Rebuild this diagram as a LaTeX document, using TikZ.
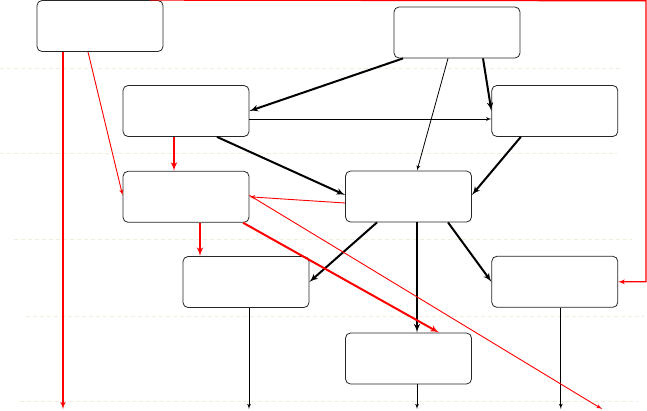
\documentclass[tikz,border=0pt]{standalone}
\usepackage{xcolor}
\usepackage{tikz}
\usetikzlibrary{shapes,arrows,positioning,calc}

\definecolor{guide}{RGB}{238,238,222}
\definecolor{flow}{RGB}{255,0,0}

\begin{document}
\begin{tikzpicture}[x=1pt, y=-1pt, node distance=34pt]
    \tikzstyle{box} = [rectangle, draw=black!85, line width=0.8pt, fill=white, minimum width=126pt, minimum height=51pt, rounded corners=5pt, inner sep=0pt]
    \tikzstyle{guideline} = [draw=guide, line width=0.8pt, dash pattern=on 4pt off 3pt]
    \tikzstyle{line} = [draw, -latex', line width=0.8pt]
    \tikzstyle{heavy} = [draw, -latex', line width=2pt]
    \tikzstyle{redline} = [draw=flow, -latex', line width=0.9pt]
    \tikzstyle{redheavy} = [draw=flow, -latex', line width=2pt]

    \useasboundingbox (0,0) rectangle (647,410);

    % level guides
    \path [guideline] (0,68) -- (620,68);
    \path [guideline] (0,153) -- (617,153);
    \path [guideline] (14,239) -- (632,239);
    \path [guideline] (26,316) -- (644,316);
    \path [guideline] (20,401) -- (638,401);

    \node [box] (origin) at (100,26) {};
    \node [box] (source) at (457,32.5) {};
    \node [box] (left) at (186,111) {};
    \node [box, right=242pt of left] (right) {};
    \node [box, below=of left] (mid) {};
    \node [box] (centre) at (408.5,196.5) {};
    \node [box] (low) at (246,282) {};
    \node [box, below=119pt of right] (side) {};
    \node [box] (sink) at (408.5,358.5) {};

    \coordinate (floor) at (0,409);
    \coordinate (rim) at (646,0.8);

    % black flows
    \path [heavy] ([xshift=-54pt]source.south) -- (left.east);
    \path [line] ([yshift=-8pt]left.east) -- ([yshift=-8pt]left.east -| right.west);
    \path [heavy] ([xshift=31pt]left.south) -- ([yshift=1.5pt]centre.west);
    \path [line] ([xshift=-9pt]source.south) -- ([xshift=8.5pt]centre.north);
    \path [heavy] ([xshift=26pt]source.south) -- (right.west);
    \path [heavy] ([xshift=-34pt]right.south) -- ([yshift=1.5pt]centre.east);
    \path [heavy] ([xshift=-31.5pt]centre.south) -- (low.east);
    \path [heavy] ([xshift=8.5pt]centre.south) -- ([xshift=8.5pt]sink.north);
    \path [heavy] ([xshift=39.5pt]centre.south) -- (side.west);
    \path [line] ([xshift=3pt]low.south) -- ([xshift=3pt]low.south |- floor);
    \path [line] ([xshift=8.5pt]sink.south) -- ([xshift=8.5pt]sink.south |- floor);
    \path [line] ([xshift=6pt]side.south) -- ([xshift=6pt]side.south |- floor);

    % red flows
    \path [redline, line width=1.4pt] ([xshift=-37pt]origin.south) -- ([xshift=-37pt]origin.south |- floor);
    \path [redline] ([xshift=-12pt]origin.south) -- ([yshift=1.5pt]mid.west);
    \path [redline, line width=1.2pt] ([xshift=50pt]origin.north) -- (rim) |- (side.east);
    \path [redheavy] ([xshift=-12pt]left.south) -- ([xshift=-12pt]mid.north);
    \path [redline] ([yshift=-6.5pt]centre.west) -- (mid.east);
    \path [redline] ([yshift=1.5pt]mid.east) -- (602,409);
    \path [redheavy] ([xshift=57pt]mid.south) -- ([xshift=30.5pt]sink.north);
    \path [redheavy] ([xshift=14pt]mid.south) -- ([xshift=14pt]mid.south |- low.north);
\end{tikzpicture}
\end{document}
